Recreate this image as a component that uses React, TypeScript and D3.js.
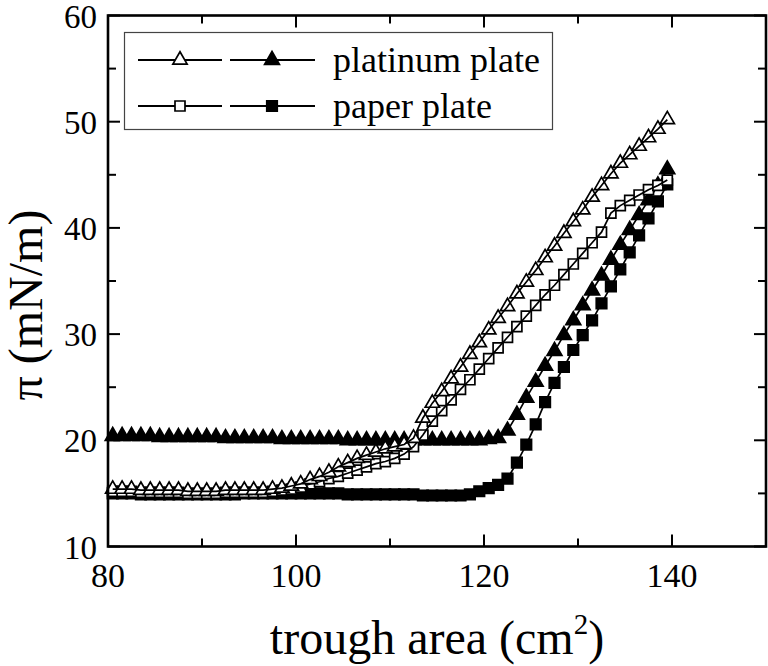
import { useEffect, useRef } from 'react';
import * as d3 from 'd3';

// trough area (cm2), one reading per point
const areas = [
  80.5, 81.5, 82.5, 83.5, 84.5, 85.5, 86.5, 87.5, 88.5, 89.5,
  90.5, 91.5, 92.5, 93.5, 94.5, 95.5, 96.5, 97.5, 98.5, 99.5,
  100.5, 101.5, 102.5, 103.5, 104.5, 105.5, 106.5, 107.5, 108.5, 109.5,
  110.5, 111.5, 112.5, 113.5, 114.5, 115.5, 116.5, 117.5, 118.5, 119.5,
  120.5, 121.5, 122.5, 123.5, 124.5, 125.5, 126.5, 127.5, 128.5, 129.5,
  130.5, 131.5, 132.5, 133.5, 134.5, 135.5, 136.5, 137.5, 138.5, 139.5,
];

// surface pressure (mN/m)
const platinumOpen = [
  15.4, 15.4, 15.4, 15.3, 15.3, 15.3, 15.3, 15.3, 15.2, 15.2,
  15.2, 15.2, 15.3, 15.3, 15.3, 15.3, 15.3, 15.4, 15.5, 15.7,
  15.9, 16.3, 16.6, 17.0, 17.5, 17.9, 18.3, 18.6, 18.9, 19.2,
  19.4, 19.6, 20.2, 22.1, 23.5, 24.6, 25.8, 26.9, 28.1, 29.2,
  30.4, 31.5, 32.6, 33.8, 34.9, 36.0, 37.2, 38.3, 39.5, 40.6,
  41.7, 42.9, 44.0, 45.1, 46.1, 46.9, 47.7, 48.5, 49.3, 50.2,
];

const platinumFilled = [
  20.4, 20.4, 20.4, 20.4, 20.4, 20.3, 20.3, 20.3, 20.3, 20.3,
  20.3, 20.3, 20.2, 20.2, 20.2, 20.2, 20.2, 20.2, 20.1, 20.1,
  20.1, 20.1, 20.1, 20.1, 20.1, 20.0, 20.0, 20.0, 20.0, 20.0,
  20.0, 20.0, 20.0, 20.0, 20.0, 20.0, 20.0, 20.0, 20.0, 20.0,
  20.1, 20.2, 20.9, 22.4, 24.0, 25.5, 27.0, 28.4, 29.9, 31.3,
  32.7, 34.1, 35.5, 37.0, 38.4, 39.8, 41.2, 42.6, 44.0, 45.5,
];

const paperOpen = [
  15.2, 15.2, 15.2, 15.1, 15.1, 15.1, 15.1, 15.1, 15.0, 15.0,
  15.0, 15.0, 15.1, 15.1, 15.1, 15.1, 15.1, 15.2, 15.3, 15.4,
  15.6, 15.9, 16.1, 16.4, 16.6, 16.9, 17.2, 17.5, 17.8, 18.0,
  18.3, 18.7, 19.4, 20.5, 21.8, 22.8, 23.8, 24.8, 25.7, 26.7,
  27.7, 28.7, 29.7, 30.7, 31.7, 32.7, 33.7, 34.6, 35.6, 36.6,
  37.6, 38.6, 39.6, 41.4, 42.1, 42.6, 43.1, 43.6, 44.0, 44.5,
];

const paperFilled = [
  15.0, 15.0, 15.0, 14.9, 14.9, 14.9, 14.9, 14.9, 14.9, 14.9,
  14.9, 14.9, 14.9, 14.9, 15.0, 15.0, 15.0, 15.0, 15.0, 15.0,
  15.0, 15.0, 15.0, 15.0, 15.0, 14.9, 14.9, 14.9, 14.9, 14.9,
  14.9, 14.9, 14.9, 14.8, 14.8, 14.8, 14.8, 14.8, 14.9, 15.2,
  15.5, 15.8, 16.4, 17.9, 19.6, 21.5, 23.6, 25.4, 26.9, 28.5,
  29.9, 31.3, 32.9, 34.5, 36.1, 37.7, 39.3, 40.9, 42.5, 44.1,
];

const xMajor = [80, 100, 120, 140];
const xMinor = [90, 110, 130, 150];
const yMajor = [10, 20, 30, 40, 50, 60];
const yMinor = [15, 25, 35, 45, 55];

const legendLabels = ['platinum plate', 'paper plate'];

const FONT = '"Times New Roman", "Liberation Serif", serif';

export default function App() {
  const svgRef = useRef<SVGSVGElement>(null);

  useEffect(() => {
    if (!svgRef.current) return;
    const svg = d3.select(svgRef.current);
    svg.selectAll('*').remove();

    const width = 768;
    const height = 666;
    svg.attr('width', width).attr('height', height);

    const x = d3.scaleLinear().domain([80, 150]).range([108, 766]);
    const y = d3.scaleLinear().domain([10, 60]).range([546.5, 15.5]);

    const [x0, x1] = x.range();
    const [y0, y1] = y.range();

    // ticks, all pointing inward on four sides
    const ticks = svg.append('g').attr('stroke', '#000').attr('stroke-width', 2);
    const addTicks = (vals: number[], len: number) => {
      vals.forEach((v) => {
        ticks.append('line').attr('x1', x(v)).attr('x2', x(v)).attr('y1', y0).attr('y2', y0 - len);
        ticks.append('line').attr('x1', x(v)).attr('x2', x(v)).attr('y1', y1).attr('y2', y1 + len);
      });
    };
    const addYTicks = (vals: number[], len: number) => {
      vals.forEach((v) => {
        ticks.append('line').attr('y1', y(v)).attr('y2', y(v)).attr('x1', x0).attr('x2', x0 + len);
        ticks.append('line').attr('y1', y(v)).attr('y2', y(v)).attr('x1', x1).attr('x2', x1 - len);
      });
    };
    addTicks(xMajor, 12);
    addTicks(xMinor, 8);
    addYTicks(yMajor, 12);
    addYTicks(yMinor, 8);

    // tick labels
    svg.append('g')
      .selectAll('text')
      .data(xMajor)
      .join('text')
      .attr('x', (d) => x(d))
      .attr('y', 587)
      .attr('text-anchor', 'middle')
      .attr('font-family', FONT)
      .attr('font-size', 34)
      .text((d) => d);

    svg.append('g')
      .selectAll('text')
      .data(yMajor)
      .join('text')
      .attr('x', 97)
      .attr('y', (d) => y(d) + 12)
      .attr('text-anchor', 'end')
      .attr('font-family', FONT)
      .attr('font-size', 33)
      .text((d) => d);

    // axis titles
    const xt = svg.append('text')
      .attr('x', (x0 + x1) / 2)
      .attr('y', 654)
      .attr('text-anchor', 'middle')
      .attr('font-family', FONT)
      .attr('font-size', 48);
    xt.append('tspan').text('trough area (cm');
    xt.append('tspan').attr('dy', -20).attr('font-size', 29).text('2');
    xt.append('tspan').attr('dy', 20).text(')');

    svg.append('text')
      .attr('transform', 'translate(42,305) rotate(-90)')
      .attr('text-anchor', 'middle')
      .attr('font-family', FONT)
      .attr('font-size', 48)
      .text('\u03c0 (mN/m)');

    // series
    const series = [
      { values: paperFilled, shape: d3.symbolSquare, size: 110, filled: true },
      { values: platinumFilled, shape: d3.symbolTriangle, size: 95, filled: true },
      { values: paperOpen, shape: d3.symbolSquare, size: 100, filled: false },
      { values: platinumOpen, shape: d3.symbolTriangle, size: 88, filled: false },
    ];

    const lineGen = d3.line<number>()
      .x((_, i) => x(areas[i]))
      .y((d) => y(d));

    series.forEach((s) => {
      const sym = d3.symbol().type(s.shape).size(s.size);
      svg.append('g')
        .selectAll('path')
        .data(s.values)
        .join('path')
        .attr('d', sym)
        .attr('transform', (d, i) => `translate(${x(areas[i])},${y(d)})`)
        .attr('fill', s.filled ? '#000' : '#fff')
        .attr('stroke', '#000')
        .attr('stroke-width', 1.7);

      svg.append('path')
        .datum(s.values)
        .attr('d', lineGen)
        .attr('fill', 'none')
        .attr('stroke', '#000')
        .attr('stroke-width', 1.7);
    });

    // frame
    svg.append('rect')
      .attr('x', x0)
      .attr('y', y1)
      .attr('width', x1 - x0)
      .attr('height', y0 - y1)
      .attr('fill', 'none')
      .attr('stroke', '#000')
      .attr('stroke-width', 2.6);

    // legend
    const lg = svg.append('g');
    lg.append('rect')
      .attr('x', 124.5)
      .attr('y', 32.5)
      .attr('width', 428)
      .attr('height', 97)
      .attr('fill', '#fff')
      .attr('stroke', '#444')
      .attr('stroke-width', 1.2);

    const rows = [
      { shape: d3.symbolTriangle, openSize: 88, filledSize: 95, cy: 60, label: legendLabels[0] },
      { shape: d3.symbolSquare, openSize: 100, filledSize: 110, cy: 106, label: legendLabels[1] },
    ];
    rows.forEach((r) => {
      [[138, 222, 180, false], [230, 315, 272, true]].forEach(([a, b, m, filled]) => {
        lg.append('line')
          .attr('x1', a as number)
          .attr('x2', b as number)
          .attr('y1', r.cy)
          .attr('y2', r.cy)
          .attr('stroke', '#000')
          .attr('stroke-width', 1.8);
        lg.append('path')
          .attr('d', d3.symbol().type(r.shape).size(filled ? r.filledSize : r.openSize)())
          .attr('transform', `translate(${m},${r.cy})`)
          .attr('fill', filled ? '#000' : '#fff')
          .attr('stroke', '#000')
          .attr('stroke-width', 1.7);
      });
      lg.append('text')
        .attr('x', 333)
        .attr('y', r.cy + 12)
        .attr('font-family', FONT)
        .attr('font-size', 36)
        .text(r.label);
    });
  }, []);

  return <svg ref={svgRef} style={{ position: 'absolute', left: 0, top: 0, background: '#fff' }} />;
}
